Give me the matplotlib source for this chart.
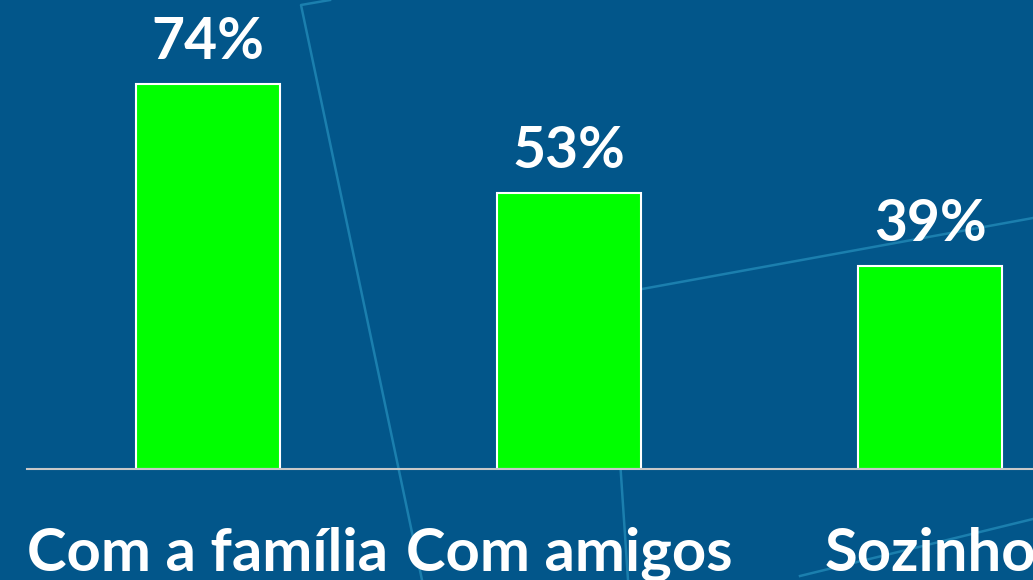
import matplotlib.pyplot as plt
from matplotlib.lines import Line2D

# Chart data
categories = ['Com a família', 'Com amigos', 'Sozinho']
values = [74, 53, 39]

bg_color = '#02568a'
bar_color = '#00ff00'
deco_color = '#1b7fae'

plt.rcParams['font.family'] = ['Lato', 'DejaVu Sans']

fig = plt.figure(figsize=(10.33, 5.8), dpi=100, facecolor=bg_color)
ax = fig.add_axes([27 / 1033, 111 / 580, 1 - 27 / 1033, 469 / 580])
ax.set_facecolor('none')

# Decorative background lines (pixel coords of the slide background)
deco_lines = [
    [(330, 0), (301, 5), (422, 580)],
    [(1033, 218), (609, 295), (628, 580)],
    [(800, 576), (1033, 519)],
]
for pts in deco_lines:
    xs = [p[0] / 1033 for p in pts]
    ys = [1 - p[1] / 580 for p in pts]
    fig.add_artist(Line2D(xs, ys, color=deco_color, lw=1.8, zorder=-1))

x = range(len(categories))
bars = ax.bar(x, values, width=0.4, color=bar_color, edgecolor='white', linewidth=1.5, zorder=2)

for bar, v in zip(bars, values):
    ax.annotate(f'{v}%', (bar.get_x() + bar.get_width() / 2, v),
                xytext=(0, 18), textcoords='offset points',
                ha='center', va='baseline', color='white',
                fontsize=41, fontweight='bold')

ax.set_xlim(-0.501, 2.285)
ax.set_ylim(0, 90.2)
ax.set_xticks(list(x))
ax.set_xticklabels(categories, color='white', fontsize=43, fontweight='bold')
ax.tick_params(axis='x', length=0, pad=42)
ax.set_yticks([])

for side in ['top', 'right', 'left']:
    ax.spines[side].set_visible(False)
ax.spines['bottom'].set_color('#c8c8c8')
ax.spines['bottom'].set_linewidth(1.5)

fig.savefig('out.png', dpi=100, facecolor=bg_color)
